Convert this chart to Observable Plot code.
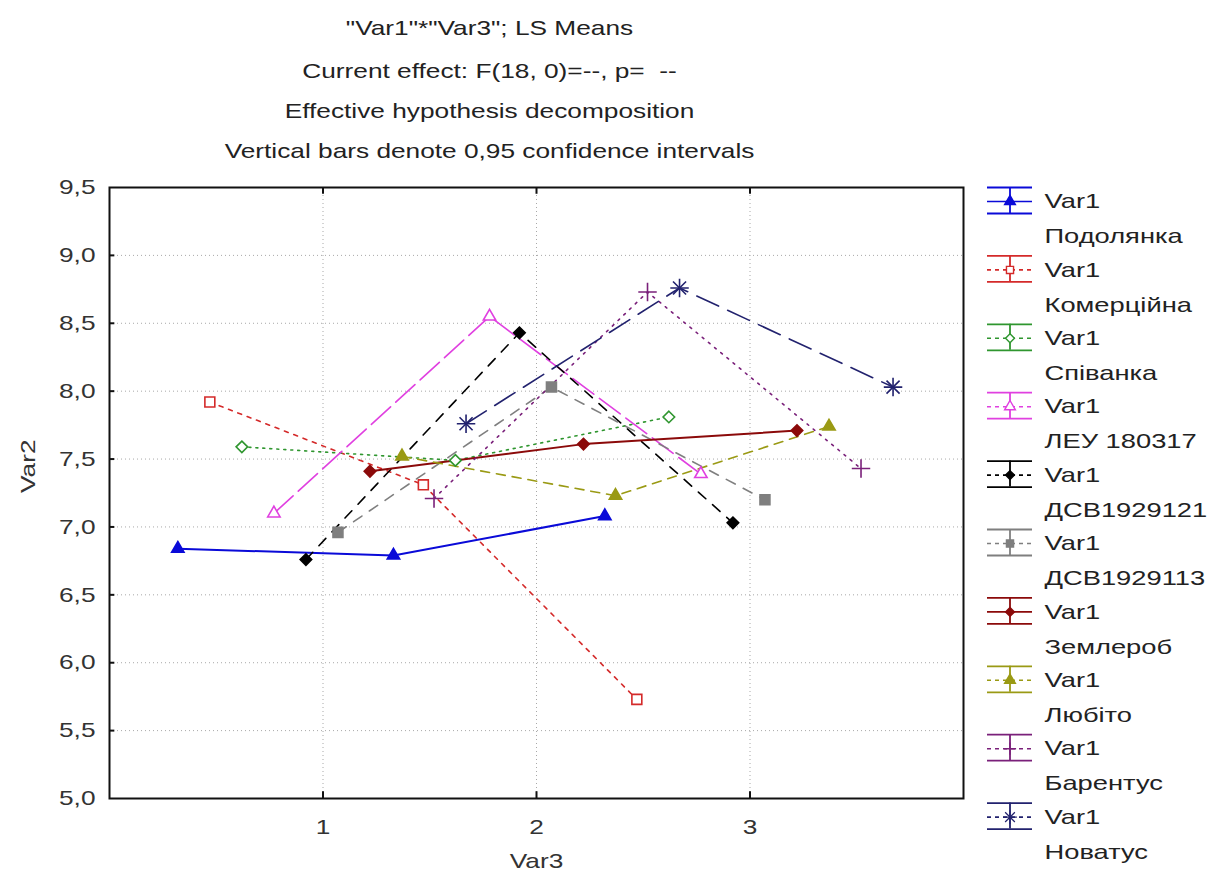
<!DOCTYPE html>
<html><head><meta charset="utf-8">
<script src="https://cdn.jsdelivr.net/npm/d3@7"></script>
<script src="https://cdn.jsdelivr.net/npm/@observablehq/plot@0.6"></script>
<style>
body{margin:0;background:#fff}
#wrap{position:relative;width:1221px;height:890px;overflow:hidden}
#chart,#legend{position:absolute;top:0}
#chart{left:0}
#legend{left:975px}
</style></head><body>
<div id="wrap"><div id="chart"></div><div id="legend"></div></div>
<script>
// ---- data ----
const titleLines = [
  "\"Var1\"*\"Var3\"; LS Means",
  "Current effect: F(18, 0)=--, p=  --",
  "Effective hypothesis decomposition",
  "Vertical bars denote 0,95 confidence intervals"
];
const varieties = ["Подолянка","Комерційна","Співанка","ЛЕУ 180317","ДСВ1929121","ДСВ1929113","Землероб","Любіто","Барентус","Новатус"];
const legendPrefix = "Var1";
// Var3 positions of the plotted points (Statistica offsets each series around levels 1,2,3)
const var3X = [
  [0.32, 1.33, 2.32],
  [0.47, 1.47, 2.47],
  [0.62, 1.62, 2.62],
  [0.77, 1.78, 2.77],
  [0.92, 1.92, 2.92],
  [1.07, 2.07, 3.07],
  [1.22, 2.22, 3.22],
  [1.37, 2.37, 3.37],
  [1.52, 2.52, 3.52],
  [1.67, 2.67, 3.67]
];
// Var2 LS means
const var2Y = [
  [6.84, 6.79, 7.08],
  [7.92, 7.31, 5.73],
  [7.59, 7.49, 7.81],
  [7.10, 8.55, 7.39],
  [6.76, 8.43, 7.03],
  [6.96, 8.03, 7.20],
  [7.41, 7.61, 7.71],
  [7.52, 7.23, 7.74],
  [7.21, 8.73, 7.43],
  [7.76, 8.76, 8.03]
];
const xTicks = [1, 2, 3];
const yTicks = [5.0, 5.5, 6.0, 6.5, 7.0, 7.5, 8.0, 8.5, 9.0, 9.5];
const xLabel = "Var3";
const yLabel = "Var2";

// ---- styles ----
const colors = ["#0a0ad8","#d42a2a","#2f962f","#e040e0","#000000","#7f7f7f","#8b0a0a","#9a9a14","#7a207a","#22226e"];
const dashes = [null,"4,6","2,5","26,7","10,9","10,9",null,"9,7","2,6","24,10"];
const symbols = ["triangle","square","diamond2","triangle","diamond2","square","diamond2","triangle","plus","asterisk"];
const symSize = {triangle: 4.6, square: 5.6, diamond2: 5.2, plus: 6, asterisk: 6};
const filled = [true,false,false,false,true,true,true,true,false,false];
const FONT = "'Liberation Sans', Arial, sans-serif";

const rows = [];
varieties.forEach((name, i) => var3X[i].forEach((x, j) => rows.push({name, i, x, y: var2Y[i][j]})));

const lineMarks = [], dotMarks = [];
varieties.forEach((name, i) => {
  const d = rows.filter(r => r.i === i);
  lineMarks.push(Plot.line(d, {x: "x", y: "y", stroke: colors[i], strokeWidth: (dashes[i] ? 1.6 : 2), strokeDasharray: dashes[i] || undefined}));
  if (symbols[i] === "asterisk") {
    dotMarks.push(Plot.dot(d, {x: "x", y: "y", symbol: "plus", r: 6, stroke: colors[i], fill: "none", strokeWidth: 1.6}));
    dotMarks.push(Plot.dot(d, {x: "x", y: "y", symbol: "times", r: 6, stroke: colors[i], fill: "none", strokeWidth: 1.6}));
  } else {
    dotMarks.push(Plot.dot(d, {x: "x", y: "y", symbol: symbols[i], r: symSize[symbols[i]],
      stroke: colors[i], fill: filled[i] ? colors[i] : (symbols[i]==="plus" ? "none" : "white"), strokeWidth: 1.6}));
  }
});

const innerY = yTicks.filter(v => v > 5 && v < 9.5);
const titleMarks = titleLines.map((t, k) => Plot.text([t], {frameAnchor: "top", dx: -47, dy: [20, 63, 103, 143][k] - 187,
  fontSize: 21, fill: "#222", fontFamily: FONT}));

const chart = Plot.plot({
  width: 1221, height: 890,
  marginLeft: 109, marginRight: 258, marginTop: 187, marginBottom: 92,
  x: {domain: [0, 4], axis: null},
  y: {domain: [5, 9.5], axis: null},
  style: {fontFamily: FONT, background: "white", overflow: "visible"},
  marks: [
    Plot.ruleX(xTicks, {stroke: "#a8a8a8", strokeDasharray: "1,3", strokeWidth: 1}),
    Plot.ruleY(innerY, {stroke: "#a8a8a8", strokeDasharray: "1,3", strokeWidth: 1}),
    ...lineMarks,
    ...dotMarks,
    Plot.frame({stroke: "#111", strokeWidth: 2}),
    Plot.ruleY(innerY, {x1: 0, x2: 0.025, stroke: "#111", strokeWidth: 2}),
    Plot.ruleX(xTicks, {y1: 9.5, y2: 9.45, stroke: "#111", strokeWidth: 2}),
    Plot.ruleX(xTicks, {y1: 5, y2: 5.05, stroke: "#111", strokeWidth: 2}),
    Plot.axisY(yTicks, {tickSize: 0, tickPadding: 14, fontSize: 21, fill: "#333", tickFormat: d => d.toFixed(1).replace(".", ","), label: null}),
    Plot.axisX(xTicks, {tickSize: 0, tickPadding: 21, fontSize: 21, fill: "#333", tickFormat: d => String(d), label: null}),
    ...titleMarks,
    Plot.text([xLabel], {frameAnchor: "bottom", dy: 867 - 798, fontSize: 21, fill: "#333", fontFamily: FONT}),
    Plot.text([yLabel], {frameAnchor: "left", dx: -81, rotate: -90, fontSize: 21, fill: "#333", fontFamily: FONT})
  ]
});
document.getElementById("chart").appendChild(chart);

// ---- legend ----
const capTop = 14, capBottom = 12, rowStep = 68.4;
const legMarks = [];
varieties.forEach((name, i) => {
  legMarks.push(Plot.ruleY([i], {x1: 0, x2: 1, stroke: colors[i], strokeWidth: 1.6, strokeDasharray: dashes[i] ? "4,4" : undefined}));
  legMarks.push(Plot.ruleY([i], {x1: 0, x2: 1, dy: -capTop, stroke: colors[i], strokeWidth: 1.8}));
  legMarks.push(Plot.ruleY([i], {x1: 0, x2: 1, dy: capBottom, stroke: colors[i], strokeWidth: 1.8}));
  legMarks.push(Plot.ruleX([0.5], {y1: i - capTop / rowStep, y2: i + capBottom / rowStep, stroke: colors[i], strokeWidth: 1.8}));
  if (symbols[i] === "asterisk") {
    legMarks.push(Plot.dot([i], {x: 0.5, y: d => d, symbol: "plus", r: 4.5, stroke: colors[i], fill: "none", strokeWidth: 1.2}));
    legMarks.push(Plot.dot([i], {x: 0.5, y: d => d, symbol: "times", r: 4.5, stroke: colors[i], fill: "none", strokeWidth: 1.2}));
  } else {
    legMarks.push(Plot.dot([i], {x: 0.5, y: d => d, symbol: symbols[i], r: 4, stroke: colors[i],
      fill: filled[i] ? colors[i] : (symbols[i]==="plus" ? "none" : "white"), strokeWidth: 1.4}));
  }
});
const legRows = varieties.map((name, i) => ({name, i}));
legMarks.push(Plot.text(legRows, {x: 1, y: "i", dx: 12, text: () => legendPrefix, textAnchor: "start", fontSize: 21, fill: "#222", fontFamily: FONT}));
legMarks.push(Plot.text(legRows, {x: 1, y: "i", dx: 12, dy: 35, text: "name", textAnchor: "start", fontSize: 21, fill: "#222", fontFamily: FONT}));

const legend = Plot.plot({
  width: 246, height: 890, margin: 0,
  x: {domain: [0, 1], range: [12, 57], axis: null},
  y: {domain: [0, 9], range: [201, 201 + 9 * rowStep], axis: null},
  style: {fontFamily: FONT, background: "transparent", overflow: "visible"},
  marks: legMarks
});
document.getElementById("legend").appendChild(legend);

// widen glyphs horizontally to match the reference's stretched lettering
function stretch(svg, k) {
  svg.querySelectorAll("text").forEach(t => {
    const L = t.getComputedTextLength();
    if (L > 0) { t.setAttribute("textLength", (L * k).toFixed(1)); t.setAttribute("lengthAdjust", "spacingAndGlyphs"); }
  });
}
stretch(chart, 1.25);
stretch(legend, 1.3);
</script>
</body></html>
